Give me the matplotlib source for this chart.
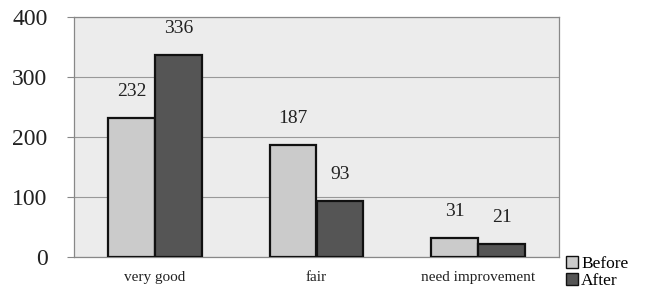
import numpy as np
import matplotlib.pyplot as plt
from matplotlib.patches import Patch

categories = ["very good", "fair", "need improvement"]
before = [232, 187, 31]
after = [336, 93, 21]
yticks = [0, 100, 200, 300, 400]

plt.rcParams['font.family'] = ['Liberation Serif', 'DejaVu Serif']

fig = plt.figure(figsize=(6.47, 2.99), dpi=100)
fig.patch.set_facecolor("white")
ax = fig.add_axes([74 / 647, 42 / 299, 485 / 647, 240 / 299])
ax.set_facecolor("#ececec")

x = np.arange(len(categories))
w = 0.29
b1 = ax.bar(x - w / 2, before, w, color="#cbcbcb", edgecolor="#111111", linewidth=1.6, zorder=3)
b2 = ax.bar(x + w / 2, after, w, color="#555555", edgecolor="#111111", linewidth=1.6, zorder=3)

for rect, v in zip(list(b1) + list(b2), before + after):
    ax.text(rect.get_x() + rect.get_width() / 2, v + 30, str(v),
            ha="center", va="bottom", fontsize=14, color="#222222")

ax.set_xlim(-0.5, 2.5)
ax.set_ylim(0, 400)
ax.set_yticks(yticks)
ax.set_yticklabels([str(t) for t in yticks], fontsize=17, color="#222222")
ax.set_xticks(x)
ax.set_xticklabels(categories, fontsize=11, color="#222222")
ax.tick_params(axis="x", length=0, pad=10)
ax.tick_params(axis="y", length=5, color="#888888", pad=14)
ax.yaxis.grid(True, color="#999999", linewidth=0.8, zorder=0)
for s in ax.spines.values():
    s.set_color("#888888")
    s.set_linewidth(0.9)

handles = [Patch(facecolor="#cbcbcb", edgecolor="#111111", label="Before"),
           Patch(facecolor="#555555", edgecolor="#111111", label="After")]
fig.legend(handles=handles, loc="lower left", bbox_to_anchor=(556 / 647, 0.0),
           frameon=False, fontsize=12.5, handlelength=0.7, handleheight=0.7,
           handletextpad=0.2, labelspacing=0.05, borderpad=0.05)

fig.savefig("out.png", dpi=100)
